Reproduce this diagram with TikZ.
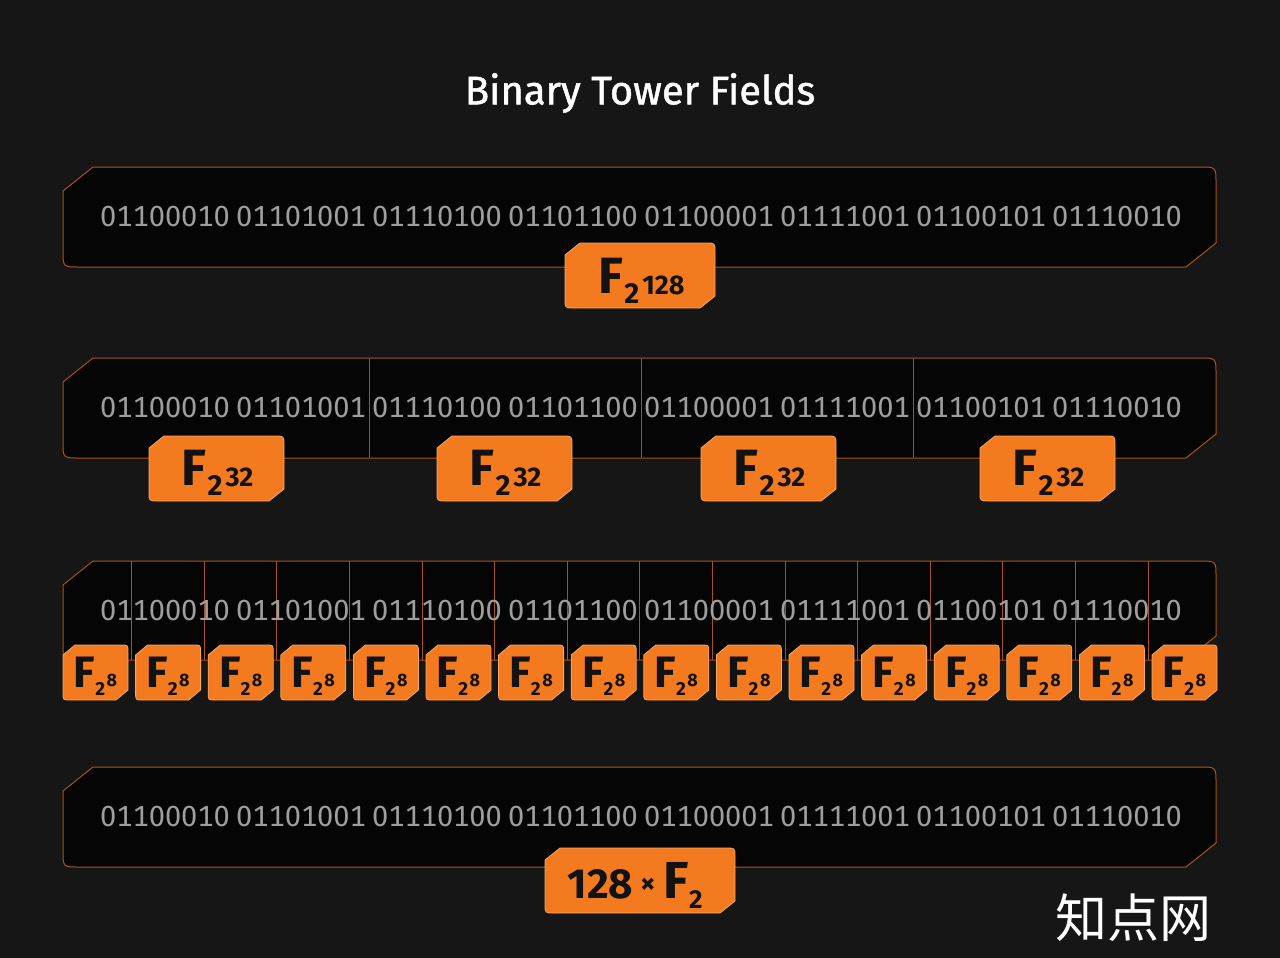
\documentclass[tikz,border=0pt]{standalone}
\usepackage{fontspec}
\usepackage{graphicx}
\setmainfont{Fira Sans}
\newfontfamily\bitfont[Numbers=Monospaced]{Fira Sans}
\newfontfamily\titlefont[FakeBold=1.2]{Fira Sans}
\newfontfamily\cjkfont{Noto Sans CJK SC}
\usetikzlibrary{positioning}
\definecolor{towerbg}{HTML}{161616}
\definecolor{towerpanel}{HTML}{050505}
\definecolor{towerline}{HTML}{A8521C}
\definecolor{towerorange}{HTML}{F47A1F}
\definecolor{towerrim}{HTML}{F6A766}
\definecolor{towerbits}{HTML}{9E9E9E}
\definecolor{towerink}{HTML}{121212}
\newcommand{\tw}[2]{{\fontsize{#1}{#1}\selectfont #2}}
% plate: style, x0, y0, x1, y1, chamfer x, chamfer y, corner
\newcommand{\plate}[8]{\path[#1] (#2,#3+#7) -- (#2+#6,#3) -- (#4-#8,#3) .. controls (#4,#3) .. (#4,#3+#8) -- (#4,#5-#7) -- (#4-#6,#5) -- (#2+#8,#5) .. controls (#2,#5) .. (#2,#5-#8) -- cycle;}
\tikzset{
  barplate/.style={fill=towerpanel, draw=towerline, line width=1pt},
  tagplate/.style={fill=towerorange, draw=towerrim, line width=0.8pt},
  bitrow/.style={text=towerbits, font={\bitfont\fontsize{29}{29}\selectfont}, inner sep=0pt, anchor=base},
  divider/.style={draw=towerline, line width=0.8pt},
  taglabel/.style={text=towerink, font=\bfseries, inner sep=0pt, anchor=base}
}
\begin{document}
\begin{tikzpicture}[x=1pt, y=-1pt]
\fill[towerbg] (0,0) rectangle (1280,958);
\useasboundingbox (0,0) rectangle (1280,958);
\node[text=white, font={\titlefont\fontsize{40}{40}\selectfont}] (title) at (640,93) {Binary Tower Fields};
% panels
\plate{barplate}{63}{167}{1216}{267}{30}{24}{16}
\plate{barplate}{63}{358}{1216}{458}{30}{24}{16}
\plate{barplate}{63}{561}{1216}{660}{30}{24}{16}
\plate{barplate}{63}{767}{1216}{867}{30}{24}{16}
\foreach \k in {1,2,3}
  \draw[divider] ({97+272*\k},358) -- ({97+272*\k},458);
\foreach \k in {0,...,14}
  \draw[divider] ({131.6+72.6*\k},561) -- ({131.6+72.6*\k},660);
\foreach \row/\top in {a/167, b/358, c/561, d/767}
  \foreach \byte [count=\k from 0] in {01100010,01101001,01110100,01101100,01100001,01111001,01100101,01110010}
    \node[bitrow] (\row\k) at ({165+136*\k},{\top+59}) {\byte};
% field tags
\plate{tagplate}{565}{243}{715}{308}{15}{12}{9}
\node[taglabel] (fa) at (641.5,293) {\tw{51}{F}\kern1pt\raisebox{-10pt}{\tw{29}{2}}\kern3pt\raisebox{-1pt}{\tw{27}{128}}};
\foreach \cx [count=\k] in {216.5,504.5,768.5,1047.5} {
  \plate{tagplate}{\cx-67.5}{436}{\cx+67.5}{501}{15}{12}{9}
  \node[taglabel] (fb\k) at (\cx+1,485) {\tw{51}{F}\kern1pt\raisebox{-10pt}{\tw{29}{2}}\kern3pt\raisebox{-1pt}{\tw{27}{32}}};
}
\foreach \k in {0,...,15} {
  \pgfmathsetmacro\xa{63+72.6*\k}
  \plate{tagplate}{\xa}{645}{\xa+65}{700}{12}{10}{7}
  \node[taglabel] (fc\k) at (\xa+32.5,687) {\tw{44}{F}\raisebox{-8pt}{\tw{19}{2}}\kern1.5pt\raisebox{1pt}{\tw{18}{8}}};
}
\plate{tagplate}{545}{848}{735}{913}{15}{12}{9}
\node[taglabel] (fd) at (635,898) {\tw{42}{128}\kern7pt\raisebox{5pt}{\tw{30}{×}}\kern8pt\tw{52}{F}\raisebox{-10pt}{\tw{26}{2}}};
\node[text=white, font={\cjkfont\fontsize{52}{52}\selectfont}] (mark) at (1133,918) {知点网};
\end{tikzpicture}
\end{document}
